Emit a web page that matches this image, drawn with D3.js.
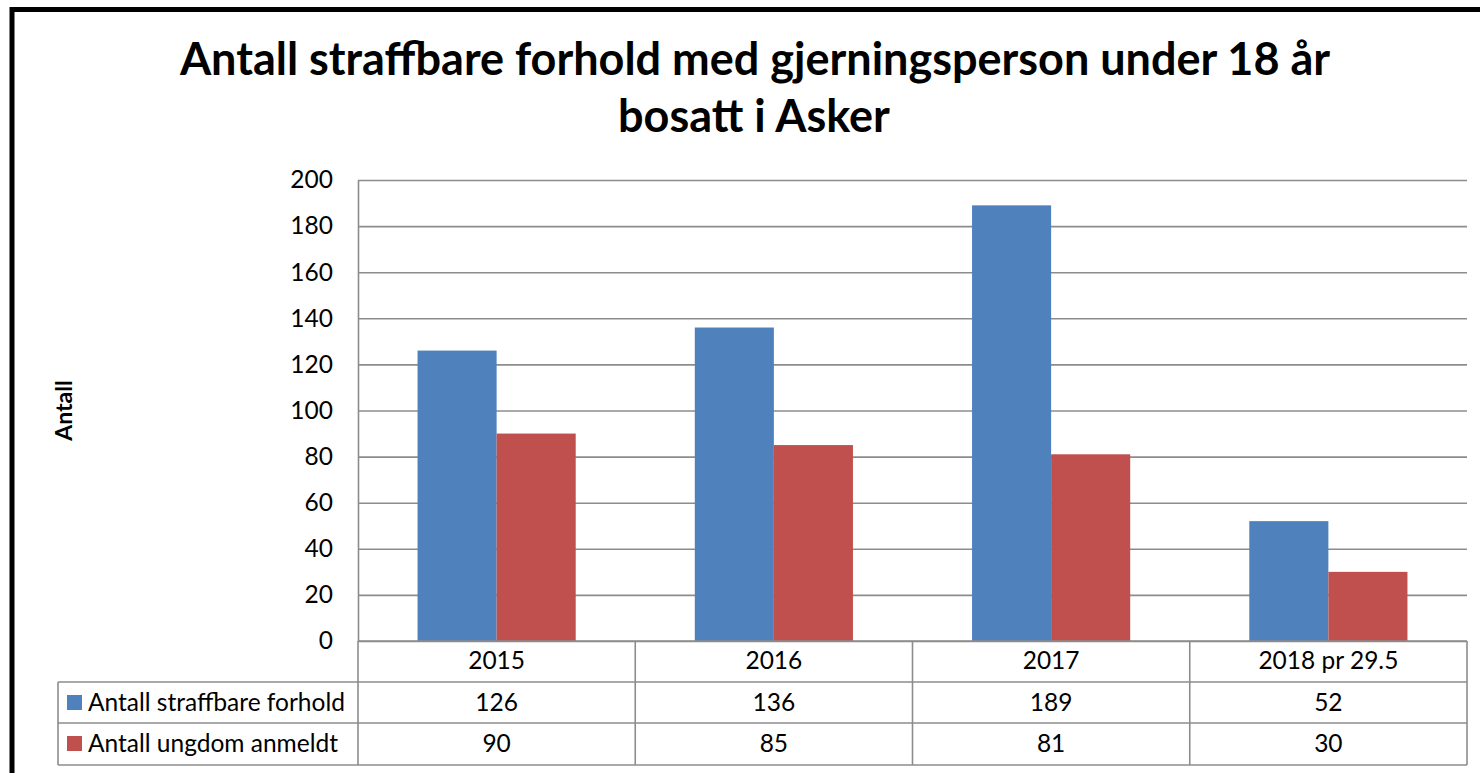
<!DOCTYPE html>
<html>
<head>
<meta charset="utf-8">
<script src="https://cdn.jsdelivr.net/npm/d3@7"></script>
<style>
  body { margin: 0; background: #fff; }
  svg { display: block; font-family: Lato, "Open Sans", sans-serif; }
</style>
</head>
<body>
<svg id="chart" width="1480" height="773"></svg>
<script>
// data
var categories = ['2015', '2016', '2017', '2018 pr 29.5'];
var seriesNames = ['Antall straffbare forhold', 'Antall ungdom anmeldt'];
var straffbare = [126, 136, 189, 52];
var ungdom = [90, 85, 81, 30];
var yTicks = [0, 20, 40, 60, 80, 100, 120, 140, 160, 180, 200];
var colours = ['#4F81BD', '#C0504D'];

var svg = d3.select('#chart');
var gridColour = '#8c8c8c';
var fontSize = 24.5;

// outer frame (runs off the right and bottom edge)
svg.append('rect')
    .attr('x', 12).attr('y', 9.5)
    .attr('width', 1500).attr('height', 800)
    .attr('fill', 'none').attr('stroke', '#000').attr('stroke-width', 5);

// title
var title = svg.append('text')
    .attr('text-anchor', 'middle')
    .attr('font-weight', 'bold')
    .attr('font-size', 45);
title.append('tspan').attr('x', 755).attr('y', 75).text('Antall straffbare forhold med gjerningsperson under 18 år');
title.append('tspan').attr('x', 754).attr('y', 132).text('bosatt i Asker');

// plot area
var plotLeft = 358, plotRight = 1467, plotTop = 180, plotBottom = 641;

var x0 = d3.scaleBand().domain(categories).range([plotLeft, plotRight]).padding(0);
var x1 = d3.scaleBand().domain(seriesNames).range([0, x0.bandwidth()])
    .paddingInner(0).paddingOuter(0.753);
var y = d3.scaleLinear().domain([0, 200]).range([plotBottom, plotTop]);

// y axis with gridlines
var yAxis = svg.append('g')
    .attr('transform', 'translate(' + plotLeft + ',0)')
    .call(d3.axisLeft(y).tickValues(yTicks).tickSizeInner(-(plotRight - plotLeft)).tickSizeOuter(0).tickPadding(25));
yAxis.selectAll('line').attr('stroke', gridColour).attr('stroke-width', 1.6);
yAxis.select('.domain').attr('stroke', gridColour).attr('stroke-width', 1.6);
yAxis.selectAll('text')
    .attr('font-family', 'Lato, sans-serif')
    .attr('font-size', fontSize)
    .attr('fill', '#000');

// axis title
svg.append('text')
    .attr('transform', 'translate(72,' + ((plotTop + plotBottom) / 2) + ') rotate(-90)')
    .attr('text-anchor', 'middle')
    .attr('font-weight', 'bold')
    .attr('font-size', 23)
    .text('Antall');

// bars
var seriesData = [straffbare, ungdom];
seriesData.forEach(function (vals, si) {
    svg.append('g').selectAll('rect')
        .data(vals)
        .enter().append('rect')
        .attr('x', function (d, i) { return x0(categories[i]) + x1(seriesNames[si]); })
        .attr('y', function (d) { return y(d); })
        .attr('width', x1.bandwidth())
        .attr('height', function (d) { return y(0) - y(d); })
        .attr('fill', colours[si]);
});

// redraw baseline above bars
svg.append('line')
    .attr('x1', plotLeft).attr('x2', plotRight).attr('y1', plotBottom).attr('y2', plotBottom)
    .attr('stroke', gridColour).attr('stroke-width', 1.6);

// data table
var rowH = 41;
var tableLeft = 58;
var rowTops = [plotBottom, plotBottom + rowH, plotBottom + 2 * rowH, plotBottom + 3 * rowH + 1];
var table = svg.append('g')
    .attr('stroke', gridColour).attr('stroke-width', 1.6);

// horizontal lines
table.append('line').attr('x1', tableLeft).attr('x2', plotRight).attr('y1', rowTops[1]).attr('y2', rowTops[1]);
table.append('line').attr('x1', tableLeft).attr('x2', plotRight).attr('y1', rowTops[2]).attr('y2', rowTops[2]);
table.append('line').attr('x1', tableLeft).attr('x2', plotRight).attr('y1', rowTops[3]).attr('y2', rowTops[3]);

// vertical lines
var colEdges = categories.map(function (c) { return x0(c); }).concat([plotRight]);
table.selectAll('line.v').data(colEdges).enter().append('line')
    .attr('x1', function (d) { return d; }).attr('x2', function (d) { return d; })
    .attr('y1', plotBottom).attr('y2', rowTops[3]);
table.append('line').attr('x1', tableLeft).attr('x2', tableLeft).attr('y1', rowTops[1]).attr('y2', rowTops[3]);

// category labels
svg.append('g').selectAll('text')
    .data(categories)
    .enter().append('text')
    .attr('x', function (d) { return x0(d) + x0.bandwidth() / 2; })
    .attr('y', plotBottom + 28)
    .attr('text-anchor', 'middle')
    .attr('font-size', fontSize)
    .text(function (d) { return d; });

// value rows
seriesData.forEach(function (vals, si) {
    var rowTop = rowTops[si + 1];
    var g = svg.append('g');
    g.append('rect')
        .attr('x', 67).attr('y', rowTop + 13)
        .attr('width', 15).attr('height', 15)
        .attr('fill', colours[si]);
    g.append('text')
        .attr('x', 88).attr('y', rowTop + 29)
        .attr('font-size', fontSize)
        .text(seriesNames[si]);
    g.selectAll('text.v')
        .data(vals)
        .enter().append('text')
        .attr('x', function (d, i) { return x0(categories[i]) + x0.bandwidth() / 2; })
        .attr('y', rowTop + 29)
        .attr('text-anchor', 'middle')
        .attr('font-size', fontSize)
        .text(function (d) { return d; });
});
</script>
</body>
</html>
